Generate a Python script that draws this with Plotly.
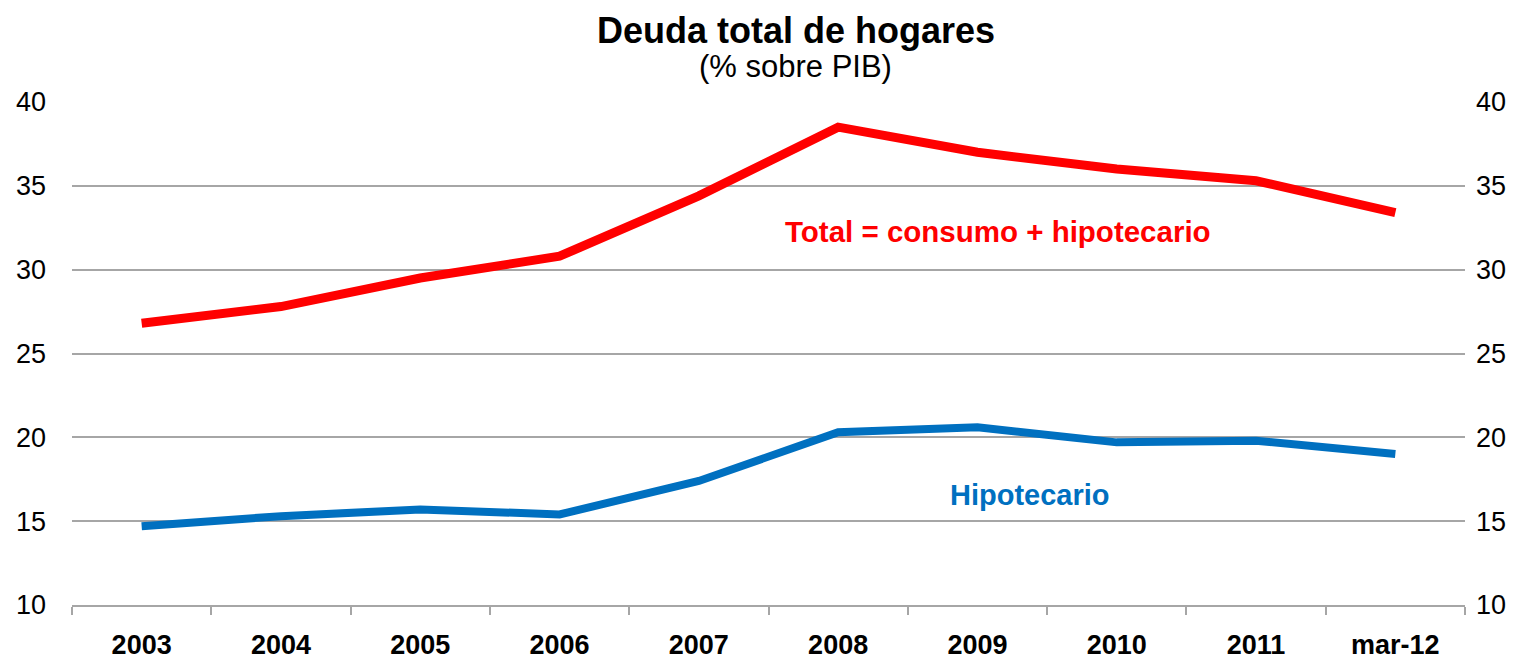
import plotly.graph_objects as go

## Data
periods = ["2003", "2004", "2005", "2006", "2007", "2008", "2009", "2010", "2011", "mar-12"]
total = [26.8, 27.8, 29.5, 30.8, 34.4, 38.5, 37.0, 36.0, 35.3, 33.4]
hipotecario = [14.7, 15.3, 15.7, 15.4, 17.4, 20.3, 20.6, 19.7, 19.8, 19.0]

FONT = "Liberation Sans, Arial, sans-serif"
GRID = "#A6A6A6"

fig = go.Figure()
fig.add_trace(go.Scatter(x=periods, y=total, mode="lines", name="Total",
                         line=dict(color="#FF0000", width=9), showlegend=False))
fig.add_trace(go.Scatter(x=periods, y=hipotecario, mode="lines", name="Hipotecario",
                         line=dict(color="#0070C0", width=8), showlegend=False))
# invisible trace so the right axis gets drawn
fig.add_trace(go.Scatter(x=periods, y=total, yaxis="y2", mode="lines",
                         line=dict(width=0), opacity=0, hoverinfo="skip", showlegend=False))

# the page body adds an 8px offset, margins are set with that in mind
fig.update_layout(
    width=1536, height=659,
    paper_bgcolor="white", plot_bgcolor="white",
    margin=dict(l=64, r=79, t=94, b=62),
    font=dict(family=FONT, color="black"),
    xaxis=dict(type="category", range=[-0.5, 9.5], automargin=False,
               showgrid=False, showline=True, linecolor=GRID, linewidth=2,
               ticks="outside", tickson="boundaries", ticklen=8, tickcolor=GRID, tickwidth=2,
               tickfont=dict(size=27, family=FONT, weight="bold"), ticklabelstandoff=15),
    yaxis=dict(range=[10, 40], dtick=5, automargin=False, showgrid=True, gridcolor=GRID,
               gridwidth=1.5, zeroline=False, showline=False, ticks="",
               tickfont=dict(size=27), ticklabelstandoff=25),
    yaxis2=dict(range=[10, 40], dtick=5, automargin=False, overlaying="y", side="right",
                showgrid=False, zeroline=False, showline=False, ticks="",
                tickfont=dict(size=27), ticklabelstandoff=10),
    annotations=[
        dict(text="<b>Deuda total de hogares</b>", xref="paper", yref="paper",
             x=0.5197, y=1.1431, xanchor="center", yanchor="middle", showarrow=False,
             font=dict(size=36), borderpad=0),
        dict(text="(% sobre PIB)", xref="paper", yref="paper",
             x=0.5197, y=1.0696, xanchor="center", yanchor="middle", showarrow=False,
             font=dict(size=31)),
        dict(text="<b>Total = consumo + hipotecario</b>", xref="paper", yref="paper",
             x=0.665, y=0.742, xanchor="center", yanchor="middle", showarrow=False,
             font=dict(size=29.5, color="#FF0000")),
        dict(text="<b>Hipotecario</b>", xref="paper", yref="paper",
             x=0.688, y=0.219, xanchor="center", yanchor="middle", showarrow=False,
             font=dict(size=29, color="#0070C0")),
    ],
)

fig.write_html("out.html")
